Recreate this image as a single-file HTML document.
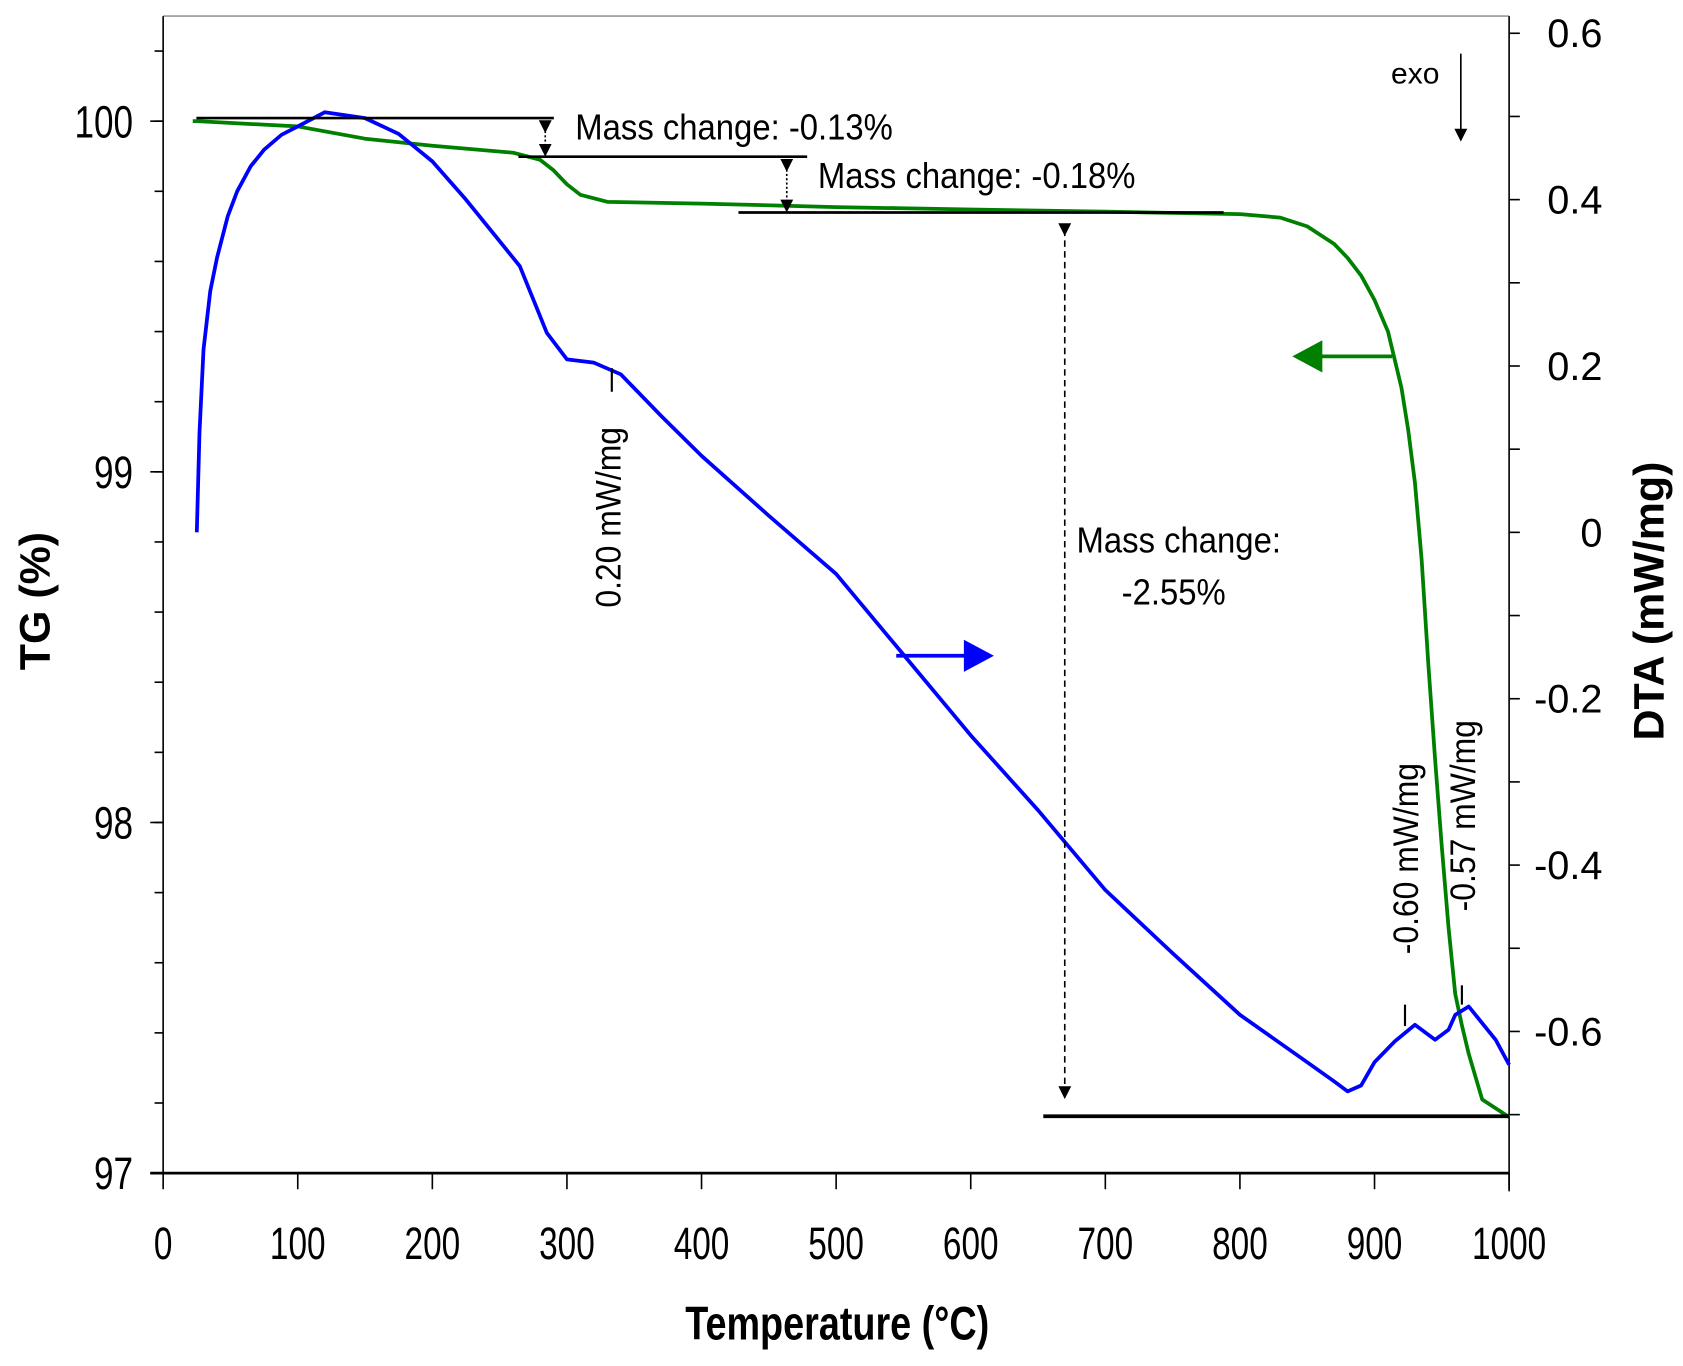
<!DOCTYPE html>
<html><head><meta charset="utf-8"><style>html,body{margin:0;padding:0;background:#fff}svg{display:block}text{font-family:"Liberation Sans",sans-serif}</style></head>
<body>
<svg width="1683" height="1366" viewBox="0 0 1568 1272.7" preserveAspectRatio="none" xmlns="http://www.w3.org/2000/svg">
<defs>
<marker id="ah" markerWidth="8" markerHeight="8" refX="4" refY="4" orient="auto"><path d="M0,0 L8,4 L0,8 z" fill="#000"/></marker>
</defs>
<g id="frame"></g>
<g id="marks"></g>
<g id="annot"></g>
</svg>
<script>
const tgT=[22,25,100,150,200,260,280,290,300,310,330,400,500,600,700,800,830,850,870,880,890,900,910,920,925,930,935,940,945,950,955,960,965,970,980,1000];
const tgV=[100.0,100.0,99.985,99.95,99.93,99.91,99.89,99.86,99.82,99.79,99.77,99.765,99.755,99.748,99.742,99.735,99.725,99.70,99.65,99.61,99.56,99.49,99.40,99.24,99.12,98.97,98.75,98.45,98.18,97.93,97.70,97.51,97.42,97.34,97.21,97.16];
const dtaT=[25,27,30,35,40,48,55,65,75,88,100,120,150,175,200,225,250,265,275,285,300,320,340,370,400,450,500,550,600,650,700,750,800,850,870,880,890,900,915,930,945,955,960,970,980,990,1000];
const dtaV=[0.0,0.12,0.22,0.29,0.33,0.38,0.41,0.44,0.46,0.478,0.488,0.505,0.498,0.479,0.446,0.40,0.35,0.32,0.28,0.24,0.208,0.204,0.19,0.14,0.092,0.02,-0.05,-0.147,-0.244,-0.334,-0.43,-0.506,-0.58,-0.637,-0.66,-0.672,-0.665,-0.637,-0.612,-0.592,-0.61,-0.598,-0.58,-0.57,-0.59,-0.61,-0.64];
const xTicks=[0,100,200,300,400,500,600,700,800,900,1000];
const tgTicks=[97,98,99,100];
const dtaTicks=[-0.6,-0.4,-0.2,0,0.2,0.4,0.6];
const X=t=>152+t*1.254;
const YL=v=>1093-(v-97)*326.7;
const YR=d=>496-d*775;
const NS="http://www.w3.org/2000/svg";
function mk(tag,attrs,parent,txt){const e=document.createElementNS(NS,tag);for(const k in attrs)e.setAttribute(k,attrs[k]);if(txt!==undefined)e.textContent=txt;document.getElementById(parent).appendChild(e);return e;}
let e;
e=mk('line',{x1:152,y1:15,x2:1406,y2:15,stroke:'#999','stroke-width':1.5},'frame');


e=mk('line',{x1:152,y1:15,x2:152,y2:1093,stroke:'#000','stroke-width':1.5},'frame');


e=mk('line',{x1:1406,y1:15,x2:1406,y2:1110,stroke:'#000','stroke-width':1.5},'frame');


e=mk('line',{x1:140,y1:1093,x2:1406,y2:1093,stroke:'#000','stroke-width':2.5},'frame');


xTicks.forEach(t=>{
 const l=mk('line',{x1:X(t),y1:1093,x2:X(t),y2:1108,stroke:'#000','stroke-width':1.5},'frame');
 
 
 const tx=mk('text',{x:X(t),y:1173,'font-size':42,'text-anchor':'middle',transform:`translate(${X(t)},0) scale(0.74,1) translate(${-X(t)},0)`},'frame',String(t));
 
 
});
for(let v=97;v<=100.31;v+=0.2){
 const l=mk('line',{x1:144,y1:YL(v),x2:152,y2:YL(v),stroke:'#000','stroke-width':1.5},'frame');
 
 
}
tgTicks.forEach(v=>{
 const l=mk('line',{x1:140,y1:YL(v),x2:152,y2:YL(v),stroke:'#000','stroke-width':1.5},'frame');
 
 
 const tx=mk('text',{x:124,y:YL(v)+15,'font-size':42,'text-anchor':'end',transform:`translate(124,0) scale(0.78,1) translate(-124,0)`},'frame',String(v));
 
 
});
for(let d=-0.7;d<=0.61;d+=0.1){
 const l=mk('line',{x1:1406,y1:YR(d),x2:1416,y2:YR(d),stroke:'#000','stroke-width':1.5},'frame');
 
 
}
dtaTicks.forEach(d=>{
 const tx=mk('text',{x:1493,y:YR(d)+13,'font-size':37,'text-anchor':'end'},'frame',d===0?'0':d.toFixed(1));
 
 
});
e=mk('text',{x:780,y:1248,'font-size':44,'font-weight':'bold','text-anchor':'middle',transform:'translate(780,0) scale(0.8,1) translate(-780,0)'},'frame','Temperature (°C)');


e=mk('text',{x:0,y:0,'font-size':40,'font-weight':'bold','text-anchor':'middle',transform:'translate(46,560) rotate(-90)'},'frame','TG (%)');


e=mk('text',{x:0,y:0,'font-size':40,'font-weight':'bold','text-anchor':'middle',transform:'translate(1550,560) rotate(-90)'},'frame','DTA (mW/mg)');


e=mk('polyline',{points:tgT.map((t,i)=>X(t)+','+YL(tgV[i])).join(' '),fill:'none',stroke:'#008000','stroke-width':3.5,'stroke-linejoin':'round'},'marks');


e=mk('polyline',{points:dtaT.map((t,i)=>X(t)+','+YR(dtaV[i])).join(' '),fill:'none',stroke:'#0000ff','stroke-width':3.5,'stroke-linejoin':'round'},'marks');


</script>
<script>
const A=document.getElementById('annot');
A.innerHTML=`
<line x1="183" y1="110" x2="516" y2="110" stroke="#000" stroke-width="2.5"/>
<line x1="483" y1="146" x2="752" y2="146" stroke="#000" stroke-width="2.5"/>
<line x1="688" y1="198" x2="1140" y2="198" stroke="#000" stroke-width="2.5"/>
<line x1="972" y1="1040" x2="1406" y2="1040" stroke="#000" stroke-width="3.5"/>
<line x1="508" y1="118" x2="508" y2="140" stroke="#000" stroke-width="1.5" stroke-dasharray="2,2" marker-start="url(#ah)" marker-end="url(#ah)"/>
<line x1="733" y1="154" x2="733" y2="192" stroke="#000" stroke-width="1.5" stroke-dasharray="2,2" marker-start="url(#ah)" marker-end="url(#ah)"/>
<line x1="992" y1="214" x2="992" y2="1018" stroke="#000" stroke-width="1.5" stroke-dasharray="6,4" marker-start="url(#ah)" marker-end="url(#ah)"/>
<text x="536" y="130" font-size="34" transform="translate(536,0) scale(0.9,1) translate(-536,0)">Mass change:  -0.13%</text>
<text x="762" y="175" font-size="34" transform="translate(762,0) scale(0.9,1) translate(-762,0)">Mass change:  -0.18%</text>
<text x="1003" y="515" font-size="34" transform="translate(1003,0) scale(0.9,1) translate(-1003,0)">Mass change:</text>
<text x="1045" y="563" font-size="34" transform="translate(1045,0) scale(0.9,1) translate(-1045,0)">-2.55%</text>
<line x1="570" y1="343" x2="570" y2="365" stroke="#000" stroke-width="2"/>
<text font-size="33" text-anchor="middle" transform="translate(578,482) rotate(-90) scale(0.9,1)">0.20 mW/mg</text>
<line x1="1309" y1="936" x2="1309" y2="956" stroke="#000" stroke-width="2"/>
<text font-size="33" text-anchor="middle" transform="translate(1321,800) rotate(-90) scale(0.9,1)">-0.60 mW/mg</text>
<line x1="1362" y1="918" x2="1362" y2="936" stroke="#000" stroke-width="2"/>
<text font-size="33" text-anchor="middle" transform="translate(1374,760) rotate(-90) scale(0.9,1)">-0.57 mW/mg</text>
<line x1="835" y1="611" x2="900" y2="611" stroke="#0000ff" stroke-width="3.5"/>
<path d="M898,596 L926,611 L898,626 z" fill="#0000ff"/>
<line x1="1297" y1="332" x2="1230" y2="332" stroke="#008000" stroke-width="3.5"/>
<path d="M1232,317 L1204,332 L1232,347 z" fill="#008000"/>
<text x="1296" y="78" font-size="28">exo</text>
<line x1="1361" y1="50" x2="1361" y2="124" stroke="#000" stroke-width="1.5"/>
<path d="M1355,120 L1361,132 L1367,120 z" fill="#000"/>
`;
</script>
</body></html>
